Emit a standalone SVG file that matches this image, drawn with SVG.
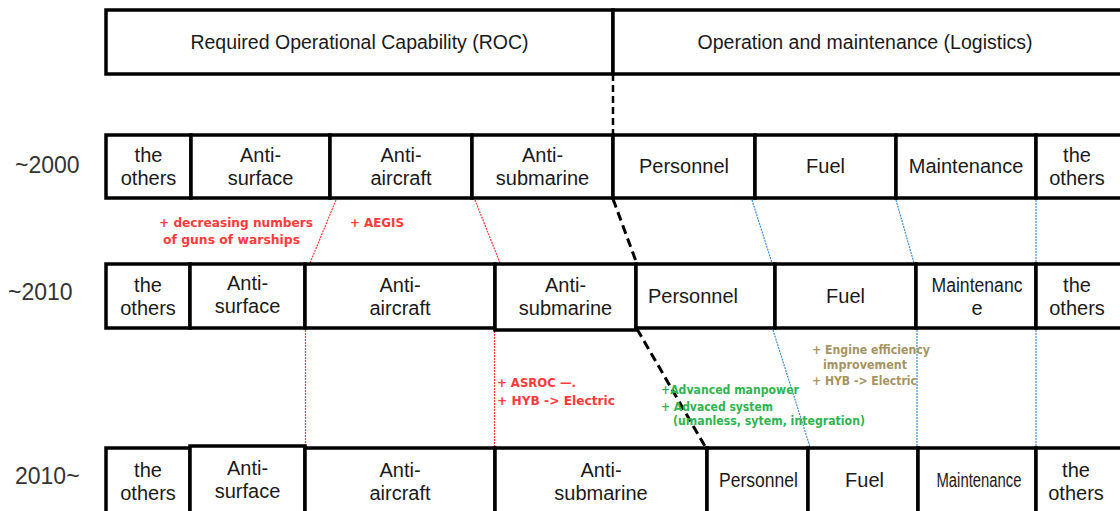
<svg xmlns="http://www.w3.org/2000/svg" width="1120" height="511" viewBox="0 0 1120 511">
<style>
.cell{fill:#fff;stroke:#000;stroke-width:3.5}
.t{font-family:"Liberation Sans",Arial,sans-serif;font-size:20px;fill:#1a1a1a;text-anchor:middle}
.h{font-family:"Liberation Sans",Arial,sans-serif;font-size:19.5px;fill:#1a1a1a;text-anchor:middle}
.yr{font-family:"Liberation Sans",Arial,sans-serif;font-size:23px;fill:#333}
.an{font-family:"DejaVu Sans",Verdana,sans-serif;font-weight:bold;font-size:12.5px}
.red{fill:#ff3b3b}
.grn{fill:#2fb44f}
.olv{fill:#a39463}
.blk{fill:none;stroke:#000;stroke-width:3;stroke-dasharray:9 5}
.rd{fill:none;stroke:#ff3b3b;stroke-width:1.2;stroke-dasharray:2 1}
.bl{fill:none;stroke:#3d8fd9;stroke-width:1.2;stroke-dasharray:2 1}
</style>
<rect width="1120" height="511" fill="#fff"/>

<g id="connectors">
<line class="blk" x1="613" y1="74" x2="613" y2="135" style="stroke-width:2.5;stroke-dasharray:7 4"/>
<line class="blk" x1="613" y1="199" x2="637" y2="264"/>
<line class="blk" x1="637" y1="329" x2="706" y2="448"/>
<line class="rd" x1="336" y1="200" x2="310" y2="263"/>
<line class="rd" x1="475" y1="200" x2="500" y2="263"/>
<line class="rd" x1="305.5" y1="330" x2="305.5" y2="447"/>
<line class="rd" x1="494.5" y1="331" x2="494.5" y2="447"/>
<line class="bl" x1="752" y1="200" x2="772" y2="263"/>
<line class="bl" x1="896" y1="200" x2="914" y2="263"/>
<line class="bl" x1="1036" y1="200" x2="1036" y2="263"/>
<line class="bl" x1="773" y1="330" x2="810" y2="447"/>
<line class="bl" x1="917" y1="330" x2="917" y2="447"/>
<line class="bl" x1="1036" y1="330" x2="1036" y2="447"/>
</g>

<g id="header-roc"><rect class="cell" x="106" y="10" width="507" height="64"/><text class="h" x="359.5" y="49">Required Operational Capability (ROC)</text></g>
<g id="header-logistics"><rect class="cell" x="613" y="10" width="515" height="64"/><text class="h" x="865" y="49">Operation and maintenance (Logistics)</text></g>

<g id="labels">
<text class="yr" x="15" y="173">~2000</text>
<text class="yr" x="8" y="300">~2010</text>
<text class="yr" x="15" y="484">2010~</text>
</g>

<!-- Row 2000 -->
<g id="r1-others"><rect class="cell" x="106" y="135" width="85" height="63"/><text class="t" x="148.5" y="162">the</text><text class="t" x="148.5" y="185">others</text></g>
<g id="r1-antisurface"><rect class="cell" x="191" y="135" width="139" height="63"/><text class="t" x="260.5" y="162">Anti-</text><text class="t" x="260.5" y="185">surface</text></g>
<g id="r1-antiaircraft"><rect class="cell" x="330" y="135" width="142" height="63"/><text class="t" x="401" y="162">Anti-</text><text class="t" x="401" y="185">aircraft</text></g>
<g id="r1-antisubmarine"><rect class="cell" x="472" y="135" width="141" height="63"/><text class="t" x="542.5" y="162">Anti-</text><text class="t" x="542.5" y="185">submarine</text></g>
<g id="r1-personnel"><rect class="cell" x="613" y="135" width="142" height="63"/><text class="t" x="684" y="173">Personnel</text></g>
<g id="r1-fuel"><rect class="cell" x="755" y="135" width="141" height="63"/><text class="t" x="825.5" y="173">Fuel</text></g>
<g id="r1-maintenance"><rect class="cell" x="896" y="135" width="140" height="63"/><text class="t" x="966" y="173">Maintenance</text></g>
<g id="r1-others2"><rect class="cell" x="1036" y="135" width="92" height="63"/><text class="t" x="1077" y="162">the</text><text class="t" x="1077" y="185">others</text></g>

<!-- Row 2010 -->
<g id="r2-others"><rect class="cell" x="106" y="264" width="84" height="64"/><text class="t" x="148" y="292">the</text><text class="t" x="148" y="315">others</text></g>
<g id="r2-antisurface"><rect class="cell" x="190" y="264" width="115" height="64"/><text class="t" x="247.5" y="290">Anti-</text><text class="t" x="247.5" y="313">surface</text></g>
<g id="r2-antiaircraft"><rect class="cell" x="305" y="264" width="190" height="64"/><text class="t" x="400" y="292">Anti-</text><text class="t" x="400" y="315">aircraft</text></g>
<g id="r2-antisubmarine"><rect class="cell" x="495" y="264" width="141" height="66"/><text class="t" x="565.5" y="292">Anti-</text><text class="t" x="565.5" y="315">submarine</text></g>
<g id="r2-personnel"><rect class="cell" x="636" y="264" width="139" height="64"/><text class="t" x="693" y="303">Personnel</text></g>
<g id="r2-fuel"><rect class="cell" x="775" y="264" width="141" height="64"/><text class="t" x="845.5" y="303">Fuel</text></g>
<g id="r2-maintenance"><rect class="cell" x="916" y="264" width="120" height="64"/><text class="t" x="977" y="292" textLength="91" lengthAdjust="spacingAndGlyphs">Maintenanc</text><text class="t" x="977" y="315">e</text></g>
<g id="r2-others2"><rect class="cell" x="1036" y="264" width="92" height="64"/><text class="t" x="1077" y="292">the</text><text class="t" x="1077" y="315">others</text></g>

<!-- Row 2010~ -->
<g id="r3-others"><rect class="cell" x="106" y="448" width="84" height="70"/><text class="t" x="148" y="477">the</text><text class="t" x="148" y="500">others</text></g>
<g id="r3-antisurface"><rect class="cell" x="190" y="446" width="115" height="72"/><text class="t" x="247.5" y="475">Anti-</text><text class="t" x="247.5" y="498">surface</text></g>
<g id="r3-antiaircraft"><rect class="cell" x="305" y="448" width="190" height="70"/><text class="t" x="400" y="477">Anti-</text><text class="t" x="400" y="500">aircraft</text></g>
<g id="r3-antisubmarine"><rect class="cell" x="495" y="448" width="212" height="70"/><text class="t" x="601" y="477">Anti-</text><text class="t" x="601" y="500">submarine</text></g>
<g id="r3-personnel"><rect class="cell" x="707" y="448" width="101" height="70"/><text class="t" x="758.5" y="487" textLength="79" lengthAdjust="spacingAndGlyphs">Personnel</text></g>
<g id="r3-fuel"><rect class="cell" x="808" y="448" width="110" height="70"/><text class="t" x="864.5" y="487">Fuel</text></g>
<g id="r3-maintenance"><rect class="cell" x="918" y="448" width="118" height="70"/><text class="t" x="979" y="487" textLength="85" lengthAdjust="spacingAndGlyphs">Maintenance</text></g>
<g id="r3-others2"><rect class="cell" x="1036" y="448" width="92" height="70"/><text class="t" x="1076" y="477">the</text><text class="t" x="1076" y="500">others</text></g>

<g id="annotations">
<text class="an red" x="159" y="227" textLength="154" lengthAdjust="spacingAndGlyphs">+ decreasing numbers</text>
<text class="an red" x="163" y="244" textLength="137" lengthAdjust="spacingAndGlyphs">of guns of warships</text>
<text class="an red" x="350" y="227" textLength="54" lengthAdjust="spacingAndGlyphs">+ AEGIS</text>
<text class="an red" x="497" y="387" textLength="79" lengthAdjust="spacingAndGlyphs">+ ASROC —.</text>
<text class="an red" x="497" y="405" textLength="118" lengthAdjust="spacingAndGlyphs">+ HYB -&gt; Electric</text>
<text class="an grn" x="661" y="394" style="font-size:12px" textLength="138" lengthAdjust="spacingAndGlyphs">+Advanced manpower</text>
<text class="an grn" x="661" y="411" style="font-size:12px" textLength="112" lengthAdjust="spacingAndGlyphs">+ Advaced system</text>
<text class="an grn" x="673" y="425" style="font-size:12px" textLength="192" lengthAdjust="spacingAndGlyphs">(umanless, sytem, integration)</text>
<text class="an olv" x="812" y="354" style="font-size:11.5px" textLength="118" lengthAdjust="spacingAndGlyphs">+ Engine efficiency</text>
<text class="an olv" x="823" y="369" style="font-size:11.5px" textLength="84" lengthAdjust="spacingAndGlyphs">improvement</text>
<text class="an olv" x="812" y="385" style="font-size:11.5px" textLength="105" lengthAdjust="spacingAndGlyphs">+ HYB -&gt; Electric</text>
</g>
</svg>
